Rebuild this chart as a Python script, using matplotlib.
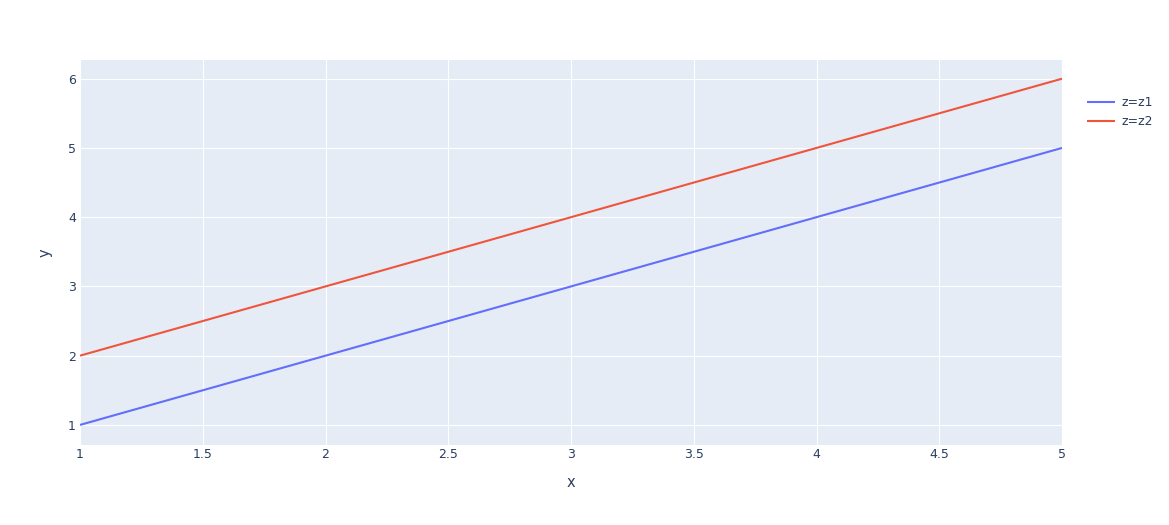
import numpy as np
from matplotlib import pyplot as plt
from matplotlib.ticker import FuncFormatter

# data
x = [1, 2, 3, 4, 5]
z1 = [1, 2, 3, 4, 5]
z2 = [2, 3, 4, 5, 6]
seriesNames = ['z=z1', 'z=z2']
seriesColors = ['#636efa', '#EF553B']

textColor = '#2a3f5f'

fig = plt.figure(figsize=(11.69, 5.25), dpi=100)
ax = fig.add_axes([80 / 1169, 80 / 525, (1062 - 80) / 1169, (445 - 60) / 525])
ax.set_facecolor('#E5ECF6')

for ys, name, col in zip([z1, z2], seriesNames, seriesColors):
    ax.plot(x, ys, color=col, linewidth=1.5, label=name, solid_capstyle='butt')

ax.set_xlim(1, 5)
ax.set_ylim(0.71, 6.27)
ax.set_xticks(np.arange(1, 5.01, 0.5))
ax.set_yticks([1, 2, 3, 4, 5, 6])
ax.xaxis.set_major_formatter(FuncFormatter(lambda v, p: ('%g' % v)))
ax.grid(True, color='white', linewidth=0.8)
ax.set_axisbelow(True)
for s in ax.spines.values():
    s.set_visible(False)
ax.tick_params(length=0, labelsize=9, labelcolor=textColor)
ax.tick_params(axis='x', pad=2.5)
ax.tick_params(axis='y', pad=3)

ax.set_xlabel('x', fontsize=10.5, color=textColor, labelpad=10)
ax.set_ylabel('y', fontsize=10.5, color=textColor, labelpad=11)

leg = ax.legend(loc='upper left', bbox_to_anchor=(1070 / 1169 + 0.01, (525 - 91) / 525),
                bbox_transform=fig.transFigure, frameon=False, fontsize=9,
                handlelength=2.3, handletextpad=0.5, labelspacing=0.5, borderaxespad=0)
for t in leg.get_texts():
    t.set_color(textColor)

fig.savefig('out.png', dpi=100)
